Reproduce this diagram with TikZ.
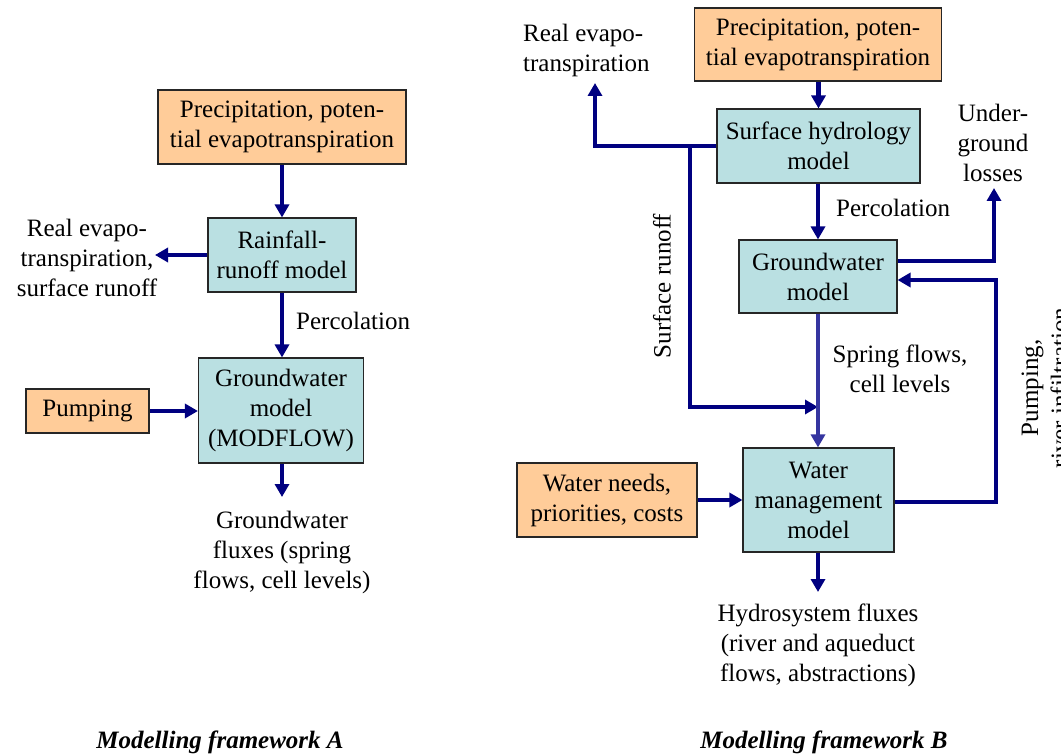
\documentclass[tikz,border=0pt]{standalone}
\usepackage{fontspec}
\setmainfont{Liberation Serif}
\usetikzlibrary{arrows.meta}
\definecolor{peach}{HTML}{FFCC99}
\definecolor{teal2}{HTML}{BAE0E2}
\definecolor{navy}{HTML}{000080}
\definecolor{midblue}{HTML}{3535A0}
\begin{document}
\begin{tikzpicture}[x=1pt,y=-1pt,
  every node/.style={font=\fontsize{25}{30}\selectfont, inner sep=0pt, align=center},
  obox/.style={draw=black!85, line width=1.1pt, fill=peach},
  tbox/.style={draw=black!85, line width=1.1pt, fill=teal2},
  arr/.style={draw=navy, line width=4.5pt, -{Triangle[length=13pt,width=14pt]}},
  lbl/.style={},
  captxt/.style={font=\fontsize{25}{30}\selectfont\bfseries\itshape}]
\useasboundingbox (0,0) rectangle (1061,754);
% ---------- Framework A ----------
\node[obox, minimum width=248pt, minimum height=74pt] (precA) at (282,127) {Precipitation, poten-\\tial evapotranspiration};
\node[tbox, minimum width=148pt, minimum height=74pt] (rainA) at (282,255) {Rainfall-\\runoff model};
\node[tbox, minimum width=165pt, minimum height=105pt] (gwA) at (281,410.5) {Groundwater\\model\\(MODFLOW)};
\node[obox, minimum width=123pt, minimum height=44pt] (pumpA) at (87.5,411) {Pumping};
\node[lbl] (evA) at (87,258) {Real evapo-\\transpiration,\\surface runoff};
\node[lbl, anchor=west] (percA) at (296,321) {Percolation};
\node[lbl] (fluxA) at (282,552) {Groundwater\\fluxes (spring\\flows, cell levels)};
\coordinate (evAend) at (155,255);
\coordinate (fluxAend) at (282,497);
\draw[arr] (precA.south -| rainA.north) -- (rainA.north);
\draw[arr] (rainA.west) -- (evAend);
\draw[arr] (rainA.south) -- (rainA.south |- gwA.north);
\draw[arr] (pumpA.east) -- (pumpA.east -| gwA.west);
\draw[arr] (fluxAend |- gwA.south) -- (fluxAend);
\node[captxt] (capA) at (220,742) {Modelling framework A};
% ---------- Framework B ----------
\node[obox, minimum width=247pt, minimum height=73pt] (precB) at (818,44.5) {Precipitation, poten-\\tial evapotranspiration};
\node[tbox, minimum width=203pt, minimum height=74pt] (surf) at (818.5,146) {Surface hydrology\\model};
\node[tbox, minimum width=158pt, minimum height=73pt] (gwB) at (818,276.5) {Groundwater\\model};
\node[tbox, minimum width=151pt, minimum height=104pt] (wm) at (818.5,500) {Water\\management\\model};
\node[obox, minimum width=180pt, minimum height=74pt] (needs) at (607,500) {Water needs,\\priorities, costs};
\node[lbl, anchor=west, align=left] (evB) at (523,50) {Real evapo-\\transpiration};
\node[lbl, rotate=90] (srl) at (662,286) {Surface runoff};
\node[lbl, anchor=west] (percB) at (836,208) {Percolation};
\node[lbl] (ugl) at (993,143) {Under-\\ground\\losses};
\node[lbl] (sfl) at (900,369) {Spring flows,\\cell levels};
\node[lbl, rotate=90] (pri) at (1045,388) {Pumping,\\river infiltration};
\node[lbl] (hfl) at (818,645) {Hydrosystem fluxes\\(river and aqueduct\\flows, abstractions)};
\coordinate (evBend) at (595,83);
\coordinate (evBc) at (595,146);
\coordinate (jn) at (690,146);
\coordinate (srb) at (690,407);
\coordinate (srend) at (818,407);
\coordinate (ulc) at (994,261);
\coordinate (ulend) at (994,188);
\coordinate (pc1) at (996,502);
\coordinate (pc2) at (996,280);
\coordinate (hend) at (818,592);
\draw[arr] (precB.south -| surf.north) -- (surf.north);
\draw[arr] (surf.west |- evBc) -- (evBc) -- (evBend);
\draw[arr] (jn) -- (srb) -- (srend);
\draw[arr] (gwB.north |- surf.south) -- (gwB.north);
\draw[arr] (gwB.east |- ulc) -- (ulc) -- (ulend);
\draw[arr] (wm.east |- pc1) -- (pc1) -- (pc2) -- (gwB.east |- pc2);
\draw[arr, draw=midblue] (gwB.south) -- (gwB.south |- wm.north);
\draw[arr] (needs.east) -- (wm.west);
\draw[arr] (hend |- wm.south) -- (hend);
\node[captxt] (capB) at (824,742) {Modelling framework B};
\end{tikzpicture}
\end{document}
